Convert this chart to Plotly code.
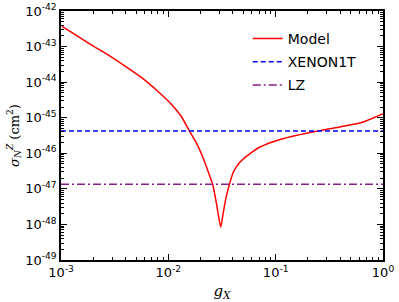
import plotly.graph_objects as go

g_model = [1.022e-3, 1.440e-3, 1.916e-3, 2.742e-3, 3.924e-3, 5.603e-3, 8.017e-3, 1.067e-2,
           1.322e-2, 1.583e-2, 1.840e-2, 2.119e-2, 2.359e-2, 2.594e-2, 2.813e-2, 3.078e-2,
           3.256e-2, 3.450e-2, 3.701e-2, 4.034e-2, 4.658e-2, 5.772e-2, 7.152e-2, 0.1099,
           0.1574, 0.2415, 0.398, 0.656, 1.0]
sigma_model = [3.71e-43, 1.94e-43, 1.12e-43, 5.88e-44, 2.88e-44, 1.36e-44, 5.47e-45, 2.40e-45,
               1.08e-45, 4.08e-46, 1.87e-46, 7.10e-47, 2.97e-47, 1.31e-47, 3.78e-48, 8.39e-49,
               2.22e-48, 5.77e-48, 1.31e-47, 2.97e-47, 5.69e-47, 9.81e-47, 1.50e-46, 2.43e-46,
               3.21e-46, 4.17e-46, 5.51e-46, 7.62e-46, 1.30e-45]
g_range = [1e-3, 1.0]
xenon1t = [4.2e-46, 4.2e-46]
lz = [1.35e-47, 1.35e-47]

x_tickvals = [1e-3, 1e-2, 1e-1, 1e0]
x_ticktext = ["10<sup>-3</sup>", "10<sup>-2</sup>", "10<sup>-1</sup>", "10<sup>0</sup>"]
y_tickvals = [1e-49, 1e-48, 1e-47, 1e-46, 1e-45, 1e-44, 1e-43, 1e-42]
y_ticktext = ["10<sup>-49</sup>", "10<sup>-48</sup>", "10<sup>-47</sup>", "10<sup>-46</sup>",
              "10<sup>-45</sup>", "10<sup>-44</sup>", "10<sup>-43</sup>", "10<sup>-42</sup>"]

fig = go.Figure()
fig.add_trace(go.Scatter(x=g_model, y=sigma_model, mode="lines", name="Model", legendgroup="a",
                         line=dict(color="#ff0000", width=1.5, shape="spline", smoothing=0.5)))
fig.add_trace(go.Scatter(x=g_range, y=xenon1t, mode="lines", name="XENON1T", legendgroup="b",
                         line=dict(color="#0000ff", width=1.5, dash="5px,3px")))
fig.add_trace(go.Scatter(x=g_range, y=lz, mode="lines", name="LZ", legendgroup="c",
                         line=dict(color="#8b1a8b", width=1.5, dash="8px,3px,2px,3px")))

axis_common = dict(
    showline=True, linecolor="black", linewidth=1.5, mirror="allticks",
    ticks="inside", ticklen=6, tickwidth=1, tickcolor="black",
    showgrid=False, zeroline=False, automargin=False,
    tickfont=dict(family="DejaVu Sans", size=13, color="black"),
    minor=dict(ticks="inside", ticklen=3.5, tickwidth=1, tickcolor="black", dtick="D1", showgrid=False),
)

fig.update_xaxes(type="log", range=[-3, 0], tickvals=x_tickvals, ticktext=x_ticktext,
                 title=dict(text="<i>g</i><sub><i>X</i></sub>", standoff=6,
                            font=dict(family="DejaVu Serif", size=15, color="black")),
                 **axis_common)
fig.update_yaxes(type="log", range=[-49, -42], tickvals=y_tickvals, ticktext=y_ticktext,
                 title=dict(text="<i>σ</i><sub><i>N</i></sub><sup><i>Z</i></sup> (cm<sup>2</sup>)", standoff=3,
                            font=dict(family="DejaVu Serif", size=13, color="black")),
                 **axis_common)

fig.update_layout(
    width=399, height=302,
    margin=dict(l=61, r=16, t=11, b=42),
    paper_bgcolor="white", plot_bgcolor="white",
    showlegend=True,
    legend=dict(x=0.58, y=0.952, xanchor="left", yanchor="top",
                bgcolor="rgba(0,0,0,0)", borderwidth=0, tracegroupgap=2,
                font=dict(family="DejaVu Sans", size=14, color="black")),
)

fig.write_html("out.html", config={"displayModeBar": False},
               post_script="document.body.style.margin='0';document.body.style.overflow='hidden';")
